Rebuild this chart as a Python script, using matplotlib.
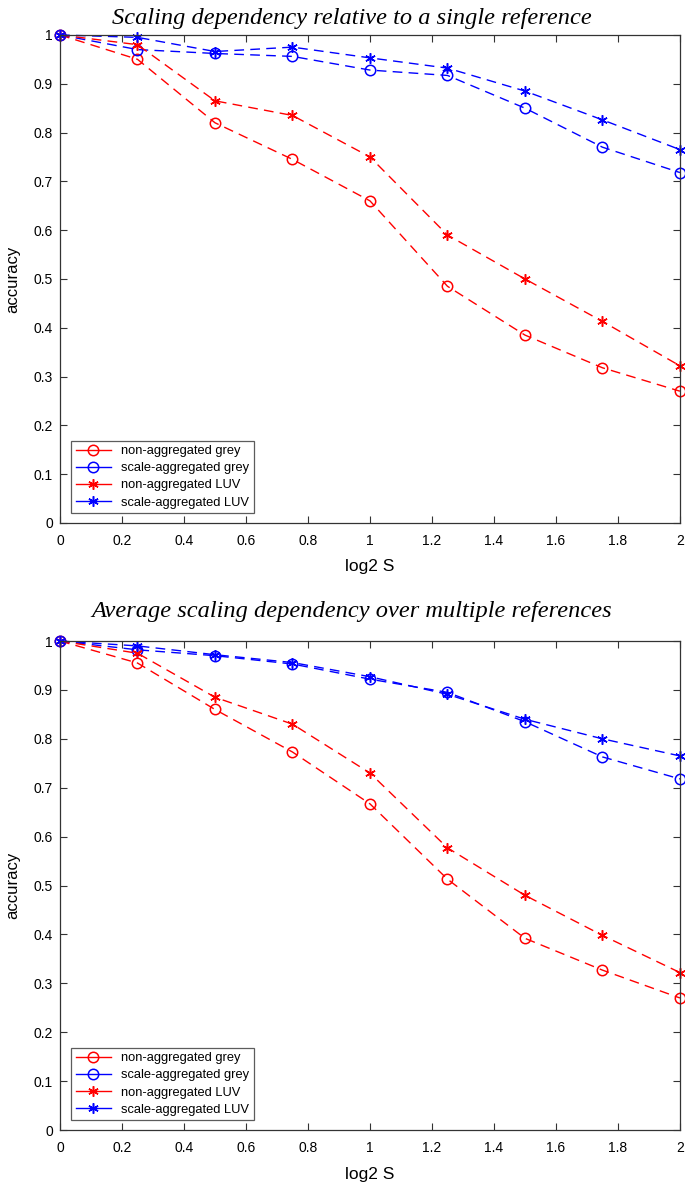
import matplotlib.pyplot as plt
from matplotlib.lines import Line2D
import numpy as np

plt.rcParams["font.family"] = ["Liberation Sans", "DejaVu Sans"]

# Data
log2_s = [0, 0.25, 0.5, 0.75, 1.0, 1.25, 1.5, 1.75, 2.0]

# single reference
single_non_grey = [1.0, 0.95, 0.82, 0.745, 0.66, 0.485, 0.385, 0.318, 0.27]
single_scale_grey = [1.0, 0.97, 0.962, 0.956, 0.928, 0.917, 0.85, 0.77, 0.718]
single_non_luv = [1.0, 0.98, 0.865, 0.835, 0.75, 0.59, 0.50, 0.413, 0.322]
single_scale_luv = [1.0, 0.995, 0.966, 0.975, 0.953, 0.932, 0.885, 0.826, 0.765]

# average over multiple references
avg_non_grey = [1.0, 0.955, 0.86, 0.773, 0.667, 0.513, 0.392, 0.327, 0.27]
avg_scale_grey = [1.0, 0.982, 0.97, 0.953, 0.922, 0.895, 0.835, 0.763, 0.718]
avg_non_luv = [1.0, 0.975, 0.885, 0.83, 0.73, 0.577, 0.48, 0.398, 0.322]
avg_scale_luv = [1.0, 0.99, 0.972, 0.956, 0.927, 0.891, 0.84, 0.80, 0.765]

labels = ["non-aggregated grey", "scale-aggregated grey", "non-aggregated LUV", "scale-aggregated LUV"]
titles = ["Scaling dependency relative to a single reference",
          "Average scaling dependency over multiple references"]

xticks = [0, 0.2, 0.4, 0.6, 0.8, 1.0, 1.2, 1.4, 1.6, 1.8, 2.0]
xticklabels = ["0", "0.2", "0.4", "0.6", "0.8", "1", "1.2", "1.4", "1.6", "1.8", "2"]
yticks = [0, 0.1, 0.2, 0.3, 0.4, 0.5, 0.6, 0.7, 0.8, 0.9, 1.0]
yticklabels = ["0", "0.1", "0.2", "0.3", "0.4", "0.5", "0.6", "0.7", "0.8", "0.9", "1"]

RED = "#ff0000"
BLUE = "#0000ff"
ASTERISK = (6, 2, 0)
styles = [(RED, "o"), (BLUE, "o"), (RED, ASTERISK), (BLUE, ASTERISK)]

fig = plt.figure(figsize=(6.85, 11.84), dpi=100)
ax_top = fig.add_axes([0.0876, 0.5583, 0.905, 0.4122])
ax_bot = fig.add_axes([0.0876, 0.0456, 0.905, 0.4130])

panels = [
    (ax_top, [single_non_grey, single_scale_grey, single_non_luv, single_scale_luv], titles[0], 8),
    (ax_bot, [avg_non_grey, avg_scale_grey, avg_non_luv, avg_scale_luv], titles[1], 17),
]

for ax, series, title, tpad in panels:
    for vals, (col, mk), lab in zip(series, styles, labels):
        ax.plot(log2_s, vals, color=col, linestyle=(0, (7, 4.5)), linewidth=1.0,
                marker=mk, markersize=7.5, markerfacecolor="none" if mk == "o" else col,
                markeredgecolor=col, markeredgewidth=1.1, label=lab, clip_on=False)
    ax.set_xlim(0, 2)
    ax.set_ylim(0, 1)
    ax.set_xticks(xticks)
    ax.set_xticklabels(xticklabels)
    ax.set_yticks(yticks)
    ax.set_yticklabels(yticklabels)
    ax.tick_params(direction="in", top=True, right=True, length=5, width=0.8,
                   labelsize=10, color="#333333", pad=5)
    ax.tick_params(axis="x", pad=8)
    for s in ax.spines.values():
        s.set_linewidth(0.9)
        s.set_color("#333333")
    ax.set_xlabel("log2 S", fontsize=12.5, va="center")
    ax.xaxis.set_label_coords(0.5, -0.09)
    ax.set_ylabel("accuracy", fontsize=12, labelpad=10)
    ax.set_title(title, fontsize=17.6, fontstyle="italic", family="Liberation Serif",
                 pad=tpad, x=0.471)

    handles = [Line2D([0], [0], color=col, linestyle="-", linewidth=1.0, marker=mk,
                      markersize=7.5, markerfacecolor="none" if mk == "o" else col,
                      markeredgecolor=col, markeredgewidth=1.1)
               for col, mk in styles]
    leg = ax.legend(handles, labels, loc="lower left", bbox_to_anchor=(0.018, 0.02),
                    fontsize=9.3, frameon=True, fancybox=False, handlelength=2.7,
                    borderpad=0.35, labelspacing=0.4, handletextpad=0.8, borderaxespad=0)
    leg.get_frame().set_edgecolor("#333333")
    leg.get_frame().set_linewidth(0.9)

fig.savefig("out.png", dpi=100)
